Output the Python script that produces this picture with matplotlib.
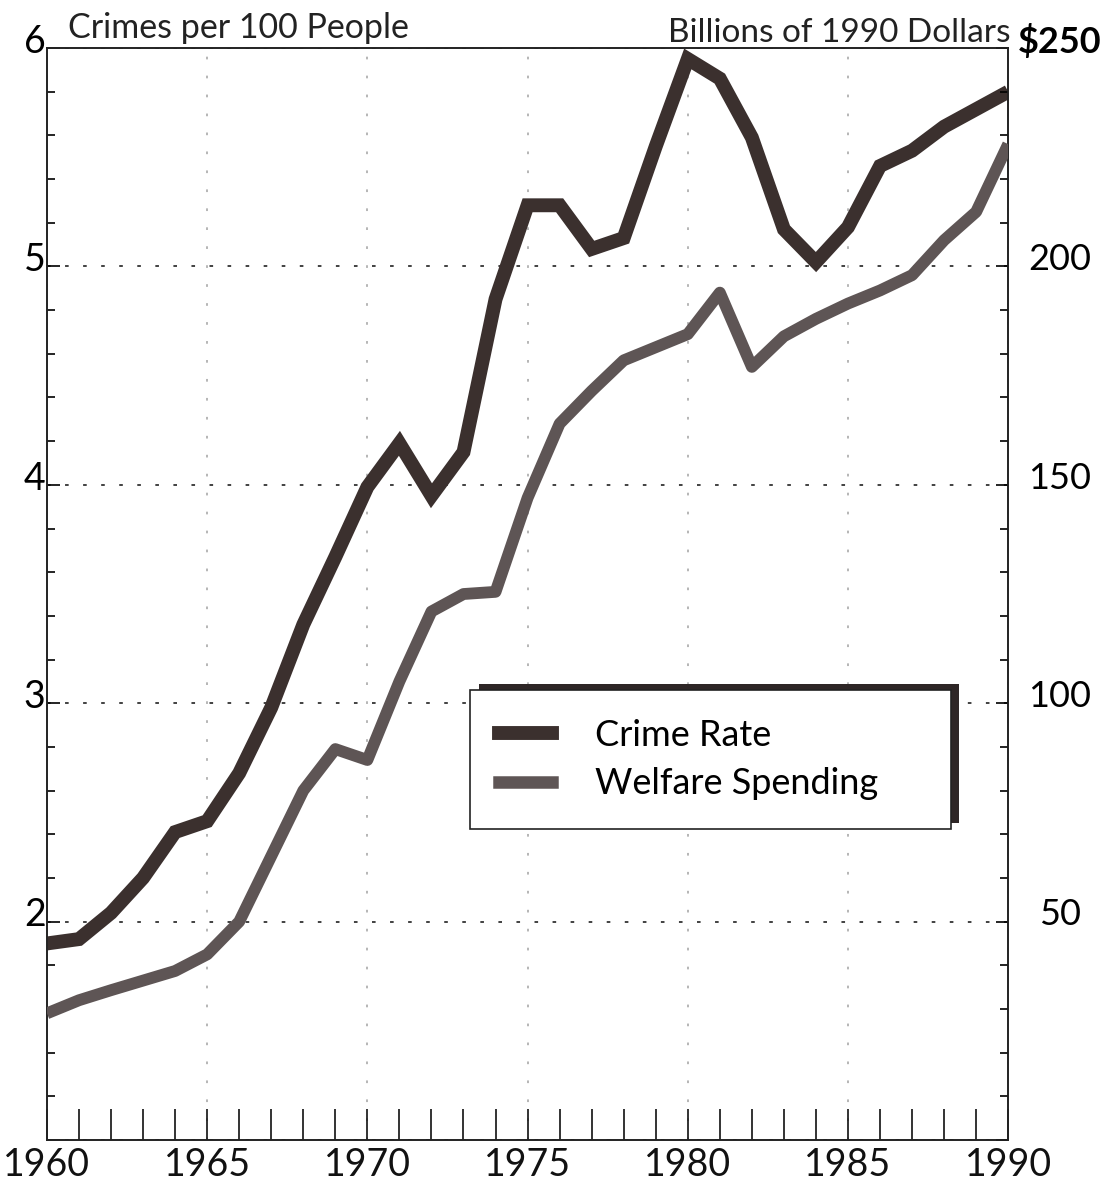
import matplotlib
matplotlib.use("Agg")
import matplotlib.pyplot as plt
from matplotlib.ticker import MultipleLocator
from matplotlib.patches import Rectangle
from matplotlib.transforms import ScaledTranslation
from matplotlib.lines import Line2D

plt.rcParams['font.family'] = ['Lato', 'DejaVu Sans']

years = list(range(1960, 1991))
crime_rate = [1.90, 1.92, 2.04, 2.20, 2.41, 2.46, 2.68, 2.98, 3.36, 3.67,
              3.99, 4.19, 3.95, 4.15, 4.85, 5.28, 5.28, 5.08, 5.13, 5.55,
              5.95, 5.86, 5.59, 5.17, 5.02, 5.18, 5.46, 5.53, 5.64, 5.72, 5.80]
welfare = [29.0, 32.0, 34.3, 36.5, 38.7, 42.5, 50.0, 65.0, 80.0, 89.5,
           87.0, 105.0, 121.0, 125.0, 125.5, 147.0, 164.0, 171.5, 178.5, 181.5,
           184.5, 194.0, 177.0, 184.0, 188.0, 191.5, 194.5, 198.0, 206.0, 212.5, 228.0]

left_ticks = [1, 2, 3, 4, 5, 6]
left_labels = ['', '2', '3', '4', '5', '6']
right_ticks = [0, 50, 100, 150, 200, 250]
right_labels = ['', '50', '100', '150', '200', r'\$250']
legend_labels = ['Crime Rate', 'Welfare Spending']

crime_color = '#3b302e'
welfare_color = '#5e5555'

fig = plt.figure(figsize=(11.10, 11.89), dpi=100)
ax = fig.add_axes([0.0423, 0.0412, 0.866, 0.9184])
ax2 = ax.twinx()

ax.plot(years, crime_rate, color=crime_color, lw=10, solid_joinstyle='miter',
        solid_capstyle='butt', zorder=3)
ax2.plot(years, welfare, color=welfare_color, lw=8.5, solid_joinstyle='round',
         solid_capstyle='butt', zorder=3)

ax.set_xlim(1960, 1990)
ax.set_ylim(1, 6)
ax2.set_ylim(0, 250)

# x axis: tall inward ticks every year
ax.xaxis.set_major_locator(MultipleLocator(5))
ax.xaxis.set_minor_locator(MultipleLocator(1))
ax.tick_params(axis='x', which='both', direction='in', length=22, width=1.2,
               top=False, pad=5, labelsize=27, colors='#111111')

ax.set_yticks(left_ticks, left_labels)
ax.yaxis.set_minor_locator(MultipleLocator(0.2))
ax.tick_params(axis='y', which='major', direction='in', length=9, width=1.2,
               right=False, pad=1, labelsize=27)
ax.tick_params(axis='y', which='minor', direction='in', length=6, width=1.2,
               right=False)

ax2.set_yticks(right_ticks, right_labels)
ax2.yaxis.set_minor_locator(MultipleLocator(10))
ax2.tick_params(axis='y', which='major', direction='in', length=9, width=1.2,
                pad=37, labelsize=26)
ax2.tick_params(axis='y', which='minor', direction='in', length=6, width=1.2)

off = ScaledTranslation(0, 7 / 72, fig.dpi_scale_trans)
for lab in ax.get_yticklabels():
    lab.set_transform(lab.get_transform() + off)
for lab in ax2.get_yticklabels():
    lab.set_transform(lab.get_transform() + off)
    lab.set_horizontalalignment('center')
ax2.get_yticklabels()[-1].set_fontweight('bold')

# dotted grid
ax.yaxis.grid(True, which='major', linestyle=(0, (2, 8)), color='#333333', lw=1.3)
ax.xaxis.grid(True, which='major', linestyle=(0, (1.5, 9)), color='#b0b0b0', lw=1.3)
ax.set_axisbelow(True)

for a in (ax, ax2):
    for s in a.spines.values():
        s.set_linewidth(1.2)
        s.set_color('#222222')

fig.text(68 / 1110, 1 - 28 / 1189, 'Crimes per 100 People', ha='left',
         va='center', fontsize=24.5, color='#222222')
fig.text(1010 / 1110, 1 - 33 / 1189, 'Billions of 1990 Dollars', ha='right',
         va='center', fontsize=24, color='#222222')

# legend with a shadow offset up and to the right
handles = [Line2D([], [], color=crime_color, lw=10),
           Line2D([], [], color=welfare_color, lw=9)]
leg = ax2.legend(handles, legend_labels, loc='upper left',
                 bbox_to_anchor=(0.44, 0.412, 0.5, 0.0), mode='expand',
                 fontsize=26, handlelength=1.47, handletextpad=1.2,
                 labelspacing=0.42, borderpad=0.8, borderaxespad=0,
                 fancybox=False, framealpha=1, edgecolor='#222222')
leg.get_frame().set_linewidth(1.2)
leg.set_zorder(5)

fig.canvas.draw()
bb = leg.get_window_extent().transformed(ax2.transAxes.inverted())
ax2.add_patch(Rectangle((bb.x0 + 0.009, bb.y0 + 0.006), bb.width, bb.height,
                        transform=ax2.transAxes, facecolor='#2e2626',
                        edgecolor='none', zorder=4))

fig.savefig('out.png', dpi=100)
